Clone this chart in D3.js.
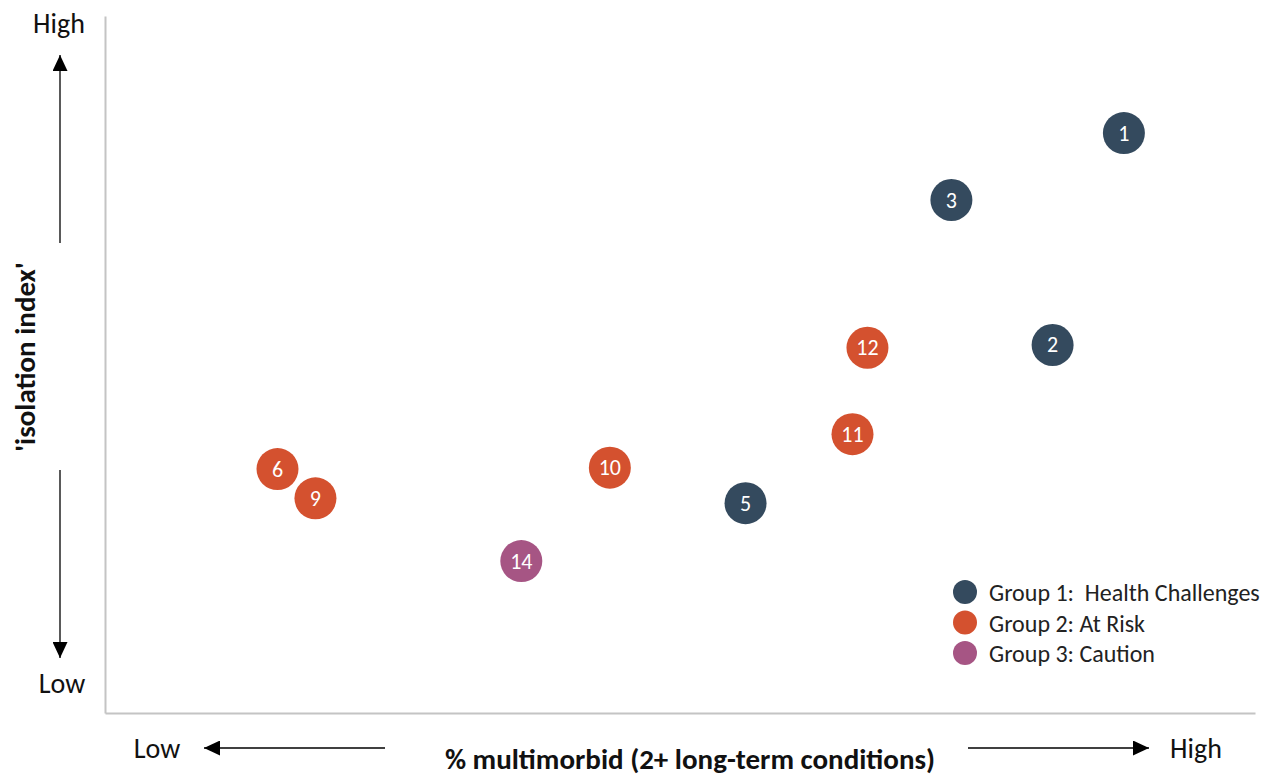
<!DOCTYPE html>
<html>
<head>
<meta charset="utf-8">
<script src="https://cdn.jsdelivr.net/npm/d3@7"></script>
<style>
  html, body { margin: 0; padding: 0; background: #fff; }
  svg { display: block; font-family: Carlito, Calibri, Lato, sans-serif; }
</style>
</head>
<body>
<svg id="chart" width="1277" height="776"></svg>
<script>
// Area identifiers, their group and position on the two relative indices (0–100)
const ids    = [1, 3, 2, 12, 11, 10, 5, 6, 9, 14];
const groups = [1, 1, 1, 2, 2, 2, 1, 2, 2, 3];
const multimorbid = [88.6, 73.6, 82.4, 66.3, 65.0, 43.9, 55.7, 15.0, 18.3, 36.2];
const isolation   = [83.2, 73.6, 52.8, 52.4, 40.0, 35.2, 30.1, 35.0, 30.8, 21.8];

const groupLabels = ["Group 1:  Health Challenges", "Group 2: At Risk", "Group 3: Caution"];
const groupColors = ["#344a5e", "#d4512f", "#a65584"];

const svg = d3.select("#chart");
const margin = { left: 105, right: 22, top: 16, bottom: 63 };
const W = 1277, H = 776;

const x = d3.scaleLinear().domain([0, 100]).range([margin.left, W - margin.right]);
const y = d3.scaleLinear().domain([0, 100]).range([H - margin.bottom, margin.top]);

// Arrowhead marker
svg.append("defs").append("marker")
  .attr("id", "arrow")
  .attr("viewBox", "0 0 16 15")
  .attr("refX", 16).attr("refY", 7.5)
  .attr("markerWidth", 16).attr("markerHeight", 15)
  .attr("markerUnits", "userSpaceOnUse")
  .attr("orient", "auto")
  .append("path").attr("d", "M0,0 L16,7.5 L0,15 Z").attr("fill", "#000");

// Axes (plain lines, no ticks)
svg.append("g")
  .attr("transform", `translate(0,${y(0)})`)
  .call(d3.axisBottom(x).tickValues([]).tickSizeOuter(0))
  .call(g => g.select(".domain").attr("stroke", "#c4c4c4").attr("stroke-width", 2));
svg.append("g")
  .attr("transform", `translate(${x(0)},0)`)
  .call(d3.axisLeft(y).tickValues([]).tickSizeOuter(0))
  .call(g => g.select(".domain").attr("stroke", "#c4c4c4").attr("stroke-width", 2));

// Direction arrows
const arrows = [
  [60, 243, 60, 55],
  [60, 470, 60, 658],
  [385, 748, 204, 748],
  [968, 748, 1149, 748]
];
svg.append("g").selectAll("line").data(arrows).join("line")
  .attr("x1", d => d[0]).attr("y1", d => d[1])
  .attr("x2", d => d[2]).attr("y2", d => d[3])
  .attr("stroke", "#000").attr("stroke-width", 1.3)
  .attr("marker-end", "url(#arrow)");

// End labels
const ends = [
  ["High", 59, 33],
  ["Low", 62, 693],
  ["Low", 157, 758],
  ["High", 1196, 758]
];
svg.append("g").selectAll("text").data(ends).join("text")
  .attr("x", d => d[1]).attr("y", d => d[2])
  .attr("text-anchor", "middle")
  .attr("font-size", 28).attr("fill", "#111")
  .text(d => d[0]);

// Axis titles
svg.append("text")
  .attr("x", 690).attr("y", 769)
  .attr("text-anchor", "middle")
  .attr("font-size", 29).attr("font-weight", "bold").attr("fill", "#111")
  .text("% multimorbid (2+ long-term conditions)");
svg.append("text")
  .attr("transform", "translate(35,357) rotate(-90)")
  .attr("text-anchor", "middle")
  .attr("font-size", 29).attr("font-weight", "bold").attr("fill", "#111")
  .text("'isolation index'");

// Points
const pts = ids.map((id, i) => ({ id, g: groups[i], x: multimorbid[i], y: isolation[i] }));
const node = svg.append("g").selectAll("g").data(pts).join("g")
  .attr("transform", d => `translate(${x(d.x)},${y(d.y)})`);
node.append("circle").attr("r", 21).attr("fill", d => groupColors[d.g - 1]);
node.append("text")
  .attr("text-anchor", "middle").attr("y", 7.5)
  .attr("font-size", 22).attr("fill", "#fff")
  .text(d => d.id);

// Legend
const leg = svg.append("g").selectAll("g").data(groupLabels).join("g")
  .attr("transform", (d, i) => `translate(965,${592 + i * 30.5})`);
leg.append("circle").attr("r", 12).attr("fill", (d, i) => groupColors[i]);
leg.append("text")
  .attr("x", 24).attr("y", 9)
  .attr("font-size", 24).attr("fill", "#222")
  .style("white-space", "pre")
  .text(d => d);
</script>
</body>
</html>
